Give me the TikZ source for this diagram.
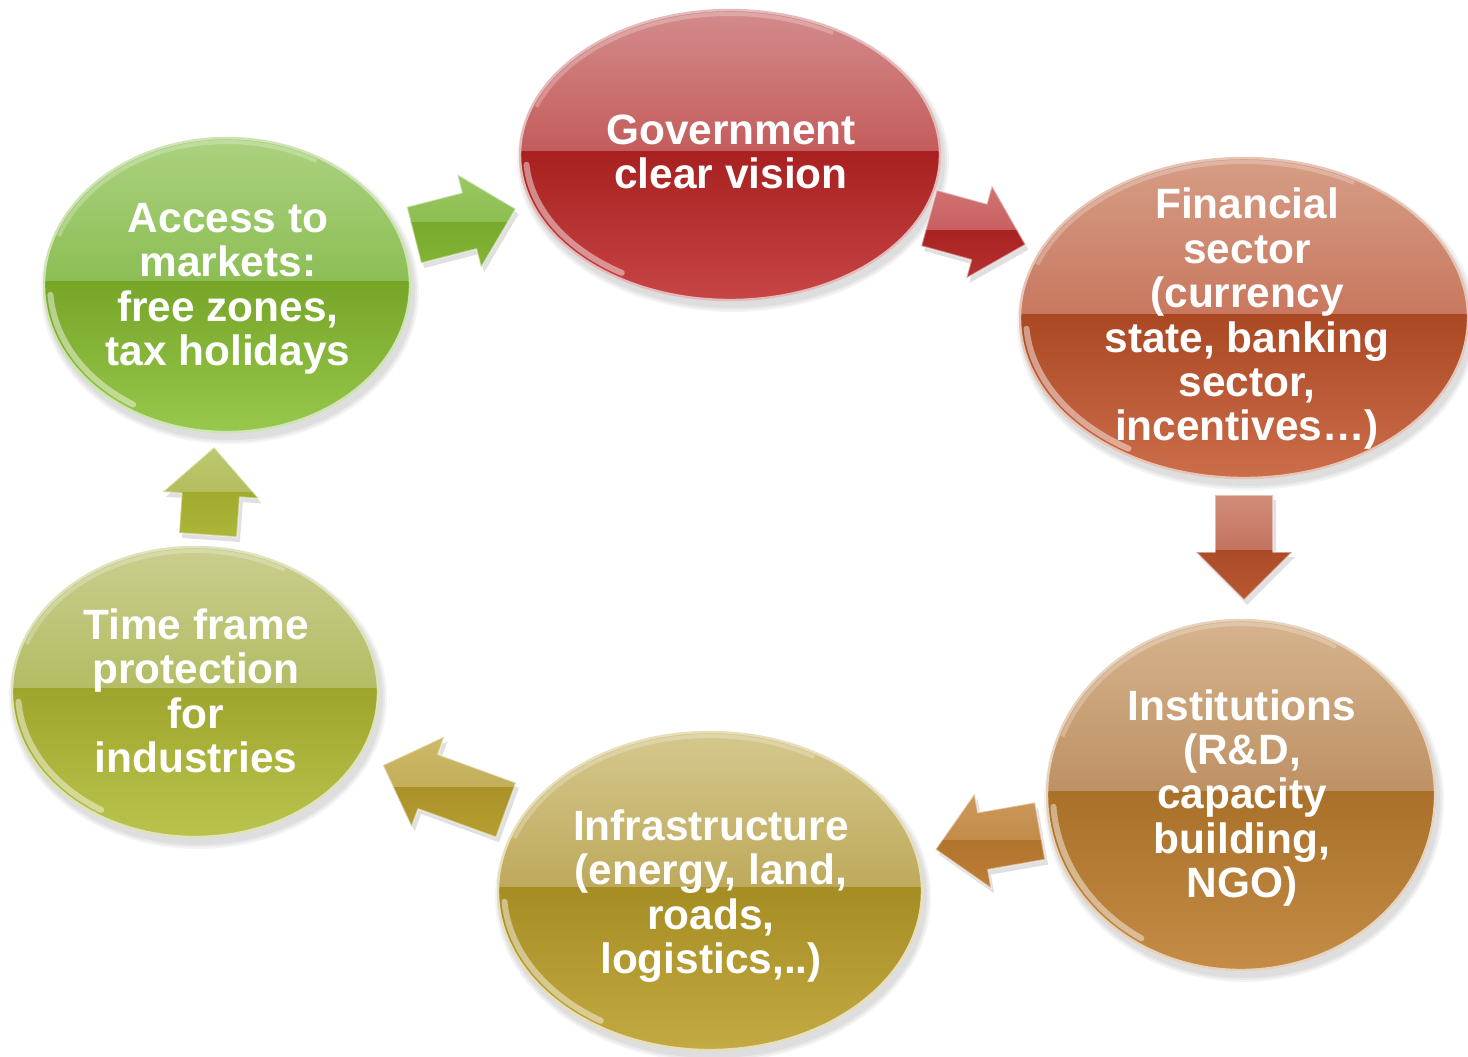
\documentclass[tikz,border=0pt]{standalone}
\usepackage{fontspec}
\setmainfont{Liberation Sans}
\usetikzlibrary{shapes.geometric}
% ellipse colours: A/B top half, C/D bottom half
\definecolor{govA}{RGB}{212,140,140}\definecolor{govB}{RGB}{196,92,92}
\definecolor{govC}{RGB}{168,32,32}\definecolor{govD}{RGB}{200,70,70}
\definecolor{finA}{RGB}{214,158,134}\definecolor{finB}{RGB}{200,120,95}
\definecolor{finC}{RGB}{170,72,35}\definecolor{finD}{RGB}{205,110,75}
\definecolor{insA}{RGB}{214,180,142}\definecolor{insB}{RGB}{190,145,100}
\definecolor{insC}{RGB}{168,112,40}\definecolor{insD}{RGB}{196,140,70}
\definecolor{infA}{RGB}{214,200,142}\definecolor{infB}{RGB}{190,170,92}
\definecolor{infC}{RGB}{165,140,35}\definecolor{infD}{RGB}{196,170,66}
\definecolor{timA}{RGB}{202,206,142}\definecolor{timB}{RGB}{180,188,100}
\definecolor{timC}{RGB}{158,165,45}\definecolor{timD}{RGB}{186,196,76}
\definecolor{accA}{RGB}{172,210,128}\definecolor{accB}{RGB}{140,190,85}
\definecolor{accC}{RGB}{118,165,40}\definecolor{accD}{RGB}{152,200,76}
% arrow colours
\definecolor{aGA}{RGB}{165,205,110}\definecolor{aGB}{RGB}{140,190,80}
\definecolor{aGC}{RGB}{120,168,45}\definecolor{aGD}{RGB}{140,190,60}
\definecolor{aRA}{RGB}{218,130,130}\definecolor{aRB}{RGB}{200,95,95}
\definecolor{aRC}{RGB}{170,35,35}\definecolor{aRD}{RGB}{190,55,55}
\definecolor{aFA}{RGB}{212,150,130}\definecolor{aFB}{RGB}{195,115,95}
\definecolor{aFC}{RGB}{172,75,40}\definecolor{aFD}{RGB}{190,95,55}
\definecolor{aIA}{RGB}{210,160,100}\definecolor{aIB}{RGB}{195,140,75}
\definecolor{aIC}{RGB}{178,115,45}\definecolor{aID}{RGB}{195,135,60}
\definecolor{aNA}{RGB}{210,190,110}\definecolor{aNB}{RGB}{195,175,90}
\definecolor{aNC}{RGB}{170,145,40}\definecolor{aND}{RGB}{190,165,55}
\definecolor{aTA}{RGB}{195,205,120}\definecolor{aTB}{RGB}{180,190,95}
\definecolor{aTC}{RGB}{160,170,45}\definecolor{aTD}{RGB}{180,190,65}

\tikzset{
  txt/.style={text=white, font=\fontsize{21.2}{22.2}\selectfont\bfseries, align=center, inner sep=0pt},
  rim/.style={white, opacity=.45, line width=3pt, line cap=round},
}

% #1 name, #2 cx, #3 cy, #4 rx, #5 ry, #6 colour prefix
\newcommand\glossy[6]{%
  \foreach \k in {1,2,3}{\fill[black,opacity=.045] (#2+3,#3+6) ellipse [x radius={#4+\k*2}, y radius={#5+\k*2}];}
  \node[ellipse, inner sep=0pt, minimum width=#4pt, minimum height=#5pt] (#1) at (#2,#3) {};
  \begin{scope}
    \clip (#2,#3) ellipse [x radius=#4, y radius=#5];
    \shade[top color=#6A, bottom color=#6B] (#2-#4-2,#3-#5-2) rectangle (#2+#4+2,#3-4);
    \shade[top color=#6C, bottom color=#6D] (#2-#4-2,#3-4) rectangle (#2+#4+2,#3+#5+2);
    \draw[rim] (#2,#3) ++(122:{#4-6} and {#5-6}) arc[start angle=122, end angle=176, x radius={#4-6}, y radius={#5-6}];
    \draw[white, opacity=.25, line width=2pt] (#2,#3) ++(200:{#4-4} and {#5-4}) arc[start angle=200, end angle=300, x radius={#4-4}, y radius={#5-4}];
  \end{scope}
  \draw[#6A!60!white, line width=1.2pt] (#2,#3) ellipse [x radius=#4, y radius=#5];
}

% #1 tail x, #2 tail y, #3 angle, #4 length, #5 gloss boundary y, #6 colour prefix
\newcommand\blkarrow[6]{%
  \fill[black,opacity=.12,shift={(#1+3,#2+5)},rotate=#3] (0,-29) -- ({#4-48},-29) -- ({#4-48},-48) -- (#4,0) -- ({#4-48},48) -- ({#4-48},29) -- (0,29) -- cycle;
  \begin{scope}
    \clip[shift={(#1,#2)},rotate=#3] (0,-29) -- ({#4-48},-29) -- ({#4-48},-48) -- (#4,0) -- ({#4-48},48) -- ({#4-48},29) -- (0,29) -- cycle;
    \shade[top color=#6A, bottom color=#6B] (#1-170,#5-75) rectangle (#1+170,#5);
    \shade[top color=#6C, bottom color=#6D] (#1-170,#5) rectangle (#1+170,#5+75);
  \end{scope}
  \draw[white,opacity=.45,line width=.8pt,line join=round,shift={(#1,#2)},rotate=#3] (0,-29) -- ({#4-48},-29) -- ({#4-48},-48) -- (#4,0) -- ({#4-48},48) -- ({#4-48},29) -- (0,29) -- cycle;
}

\begin{document}
\begin{tikzpicture}[x=0.5pt,y=-0.5pt]
\useasboundingbox (0,0) rectangle (1468,1056);
\fill[white] (0,0) rectangle (1468,1056);

\glossy{gov}{730}{155}{210}{145}{gov}
\glossy{fin}{1244}{318}{224}{160}{fin}
\glossy{inst}{1241}{795}{194}{175}{ins}
\glossy{infra}{710}{891}{212}{159}{inf}
\glossy{time}{195}{692}{183}{145}{tim}
\glossy{acc}{227}{285}{183}{147}{acc}

\blkarrow{414}{235}{14.4}{105}{222}{aG}
\blkarrow{929}{218}{-15.4}{100}{230}{aR}
\blkarrow{1244}{495}{-90}{105}{550}{aF}
\blkarrow{1040}{831}{190}{106}{840}{aI}
\blkarrow{506}{810}{160}{131}{787}{aN}
\blkarrow{208}{535}{86}{88}{492}{aT}

\node[txt] (govt) at (731,152) {Government\\clear vision};
\node[txt] (fint) at (1247,319) {Financial\\sector\\(currency\\state, banking\\sector,\\incentives\ldots)};
\node[txt] (instt) at (1242,798) {Institutions\\(R\&D,\\capacity\\building,\\NGO)};
\node[txt] (infrat) at (711,896) {Infrastructure\\(energy, land,\\roads,\\logistics,..)};
\node[txt] (timet) at (196,691) {Time frame\\protection\\for\\industries};
\node[txt] (acct) at (228,289) {Access to\\markets:\\free zones,\\tax holidays};
\end{tikzpicture}
\end{document}
